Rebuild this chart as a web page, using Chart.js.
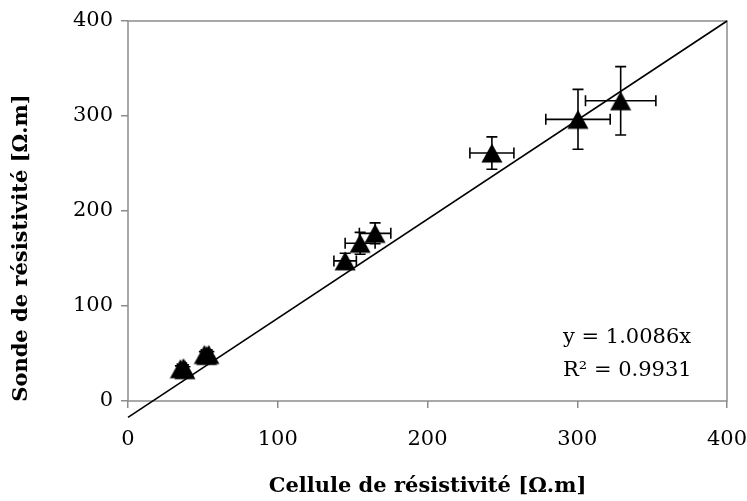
<!DOCTYPE html>
<html>
<head>
<meta charset="utf-8">
<script src="https://cdn.jsdelivr.net/npm/chart.js@4.4.1/dist/chart.umd.min.js"></script>
<style>
html, body { margin: 0; padding: 0; background: #fff; }
</style>
</head>
<body>
<canvas id="resistivite" width="747" height="501"></canvas>
<script>
// mesures : cellule (x) contre sonde (y), avec incertitudes
const cellule    = [35, 37, 38, 51, 54, 52.5, 145, 155, 165, 243, 300.5, 329];
const sonde      = [34, 35, 33, 49, 49, 48, 147.5, 166, 176.5, 261, 296.5, 316];
const errCellule = [2, 2, 2, 2, 2, 2, 7.5, 10, 10.5, 14.7, 21.5, 23.5];
const errSonde   = [3, 3, 3, 3, 3, 3, 8, 11.5, 11, 17, 31.5, 36];

// droite de tendance (extremites)
const tendanceX = [0, 400];
const tendanceY = [-17.2, 400];

const graduations = [0, 100, 200, 300, 400];
const equation = ['y = 1.0086x', 'R² = 0.9931'];

const police = "'DejaVu Serif', 'Liberation Serif', serif";
const grisAxe = '#8c8c8c';

// triangle centré sur sa boite englobante (comme Excel)
const triangle = document.createElement('canvas');
triangle.width = 22;
triangle.height = 22;
(function () {
    const c = triangle.getContext('2d');
    c.fillStyle = '#000';
    c.beginPath();
    c.moveTo(11, 1.5);
    c.lineTo(21.5, 20.5);
    c.lineTo(0.5, 20.5);
    c.closePath();
    c.fill();
})();

const points = cellule.map((x, i) => ({ x: x, y: sonde[i] }));
const tendance = tendanceX.map((x, i) => ({ x: x, y: tendanceY[i] }));

const barresErreur = {
    id: 'barresErreur',
    beforeDatasetsDraw(chart) {
        const ctx = chart.ctx;
        const sx = chart.scales.x, sy = chart.scales.y;
        const cap = 5.5;
        ctx.save();
        ctx.strokeStyle = '#000';
        ctx.lineWidth = 1.6;
        ctx.beginPath();
        cellule.forEach((x, i) => {
            const px = sx.getPixelForValue(x), py = sy.getPixelForValue(sonde[i]);
            const x1 = sx.getPixelForValue(x - errCellule[i]);
            const x2 = sx.getPixelForValue(x + errCellule[i]);
            const y1 = sy.getPixelForValue(sonde[i] + errSonde[i]);
            const y2 = sy.getPixelForValue(sonde[i] - errSonde[i]);
            ctx.moveTo(x1, py); ctx.lineTo(x2, py);
            ctx.moveTo(x1, py - cap); ctx.lineTo(x1, py + cap);
            ctx.moveTo(x2, py - cap); ctx.lineTo(x2, py + cap);
            ctx.moveTo(px, y1); ctx.lineTo(px, y2);
            ctx.moveTo(px - cap, y1); ctx.lineTo(px + cap, y1);
            ctx.moveTo(px - cap, y2); ctx.lineTo(px + cap, y2);
        });
        ctx.stroke();
        ctx.restore();
    }
};

const cadreEtTextes = {
    id: 'cadreEtTextes',
    beforeDatasetsDraw(chart) {
        const a = chart.chartArea;
        const ctx = chart.ctx;
        ctx.save();
        ctx.strokeStyle = grisAxe;
        ctx.lineWidth = 1.5;
        ctx.strokeRect(a.left, a.top, a.right - a.left, a.bottom - a.top);
        ctx.restore();
    },
    afterDraw(chart) {
        const ctx = chart.ctx;
        const a = chart.chartArea;
        ctx.save();
        ctx.fillStyle = '#000';
        ctx.font = 'bold 21px ' + police;
        ctx.textAlign = 'center';
        ctx.textBaseline = 'middle';
        ctx.fillText('Cellule de résistivité [Ω.m]', (a.left + a.right) / 2, 487);
        ctx.translate(22, 248);
        ctx.rotate(-Math.PI / 2);
        ctx.fillText('Sonde de résistivité [Ω.m]', 0, 0);
        ctx.restore();

        ctx.save();
        ctx.fillStyle = '#000';
        ctx.font = '21px ' + police;
        ctx.textAlign = 'left';
        ctx.textBaseline = 'alphabetic';
        ctx.fillText(equation[0], 563, 343);
        ctx.fillText(equation[1], 563, 376);
        ctx.restore();
    }
};

const axe = {
    type: 'linear',
    min: 0,
    max: 400,
    afterBuildTicks: (scale) => {
        scale.ticks = graduations.map(v => ({ value: v }));
    },
    grid: {
        drawOnChartArea: false,
        drawTicks: true,
        tickLength: 7,
        color: grisAxe,
        lineWidth: 1.5
    },
    border: { display: false },
    ticks: {
        color: '#000',
        font: { family: police, size: 21 }
    }
};

new Chart(document.getElementById('resistivite'), {
    type: 'scatter',
    data: {
        datasets: [
            {
                label: 'Mesures',
                data: points,
                pointStyle: triangle,
                pointRadius: 11,
                pointHoverRadius: 11,
                order: 1
            },
            {
                type: 'line',
                label: 'Tendance',
                data: tendance,
                borderColor: '#000',
                borderWidth: 1.6,
                pointRadius: 0,
                fill: false,
                clip: false,
                order: 0
            }
        ]
    },
    options: {
        responsive: false,
        animation: false,
        events: [],
        layout: { padding: { top: 21, right: 20, left: 0, bottom: 0 } },
        plugins: {
            legend: { display: false },
            tooltip: { enabled: false }
        },
        scales: {
            x: Object.assign({}, axe, {
                position: 'bottom',
                ticks: Object.assign({}, axe.ticks, { padding: 19, maxRotation: 0 }),
                afterFit: (s) => { s.height = 100; s.paddingLeft = 0; s.paddingRight = 0; }
            }),
            y: Object.assign({}, axe, {
                position: 'left',
                ticks: Object.assign({}, axe.ticks, { padding: 8 }),
                afterFit: (s) => { s.width = 128; s.paddingTop = 0; s.paddingBottom = 0; }
            })
        }
    },
    plugins: [barresErreur, cadreEtTextes]
});
</script>
</body>
</html>
